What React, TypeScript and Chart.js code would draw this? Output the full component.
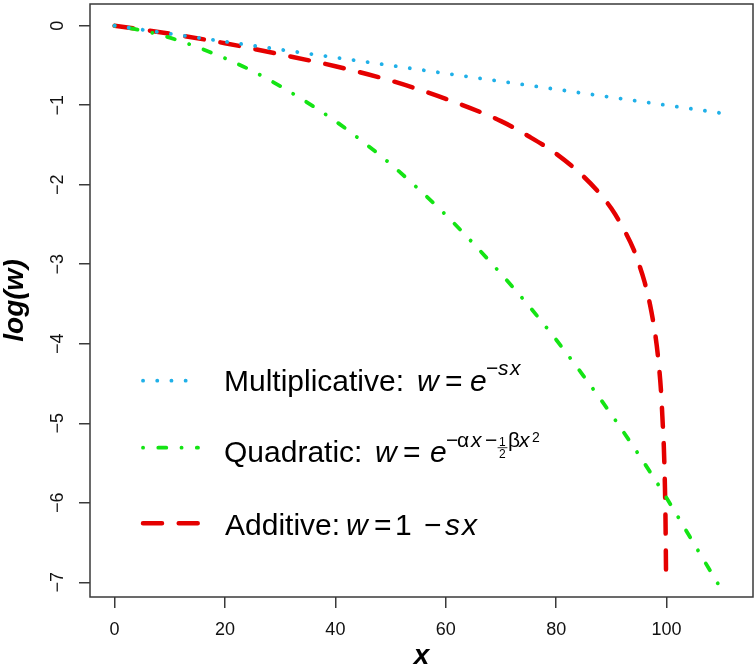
import React, { useEffect, useRef } from 'react';
import { Chart, registerables } from 'chart.js';

Chart.register(...registerables);

// ---- data ----
const multX = [0, 20, 40, 60, 80, 100, 111];
const multY = [0, -0.2, -0.4, -0.6, -0.8, -1.0, -1.11];

const quadX = [0, 5, 10, 15, 20, 25, 30, 35, 40, 45, 50, 55, 60, 65, 70, 75, 80, 85, 90, 95, 100, 105, 110, 110.5];
const quadY = [0, -0.06, -0.15, -0.27, -0.41, -0.57, -0.76, -0.97, -1.2, -1.46, -1.74, -2.05, -2.38, -2.74, -3.12, -3.52, -3.95, -4.41, -4.89, -5.4, -5.94, -6.52, -7.1, -7.16];

const addX = [0, 10, 20, 30, 40, 50, 60, 70, 75, 80, 85, 88, 90, 92, 94, 95, 96, 97, 98, 98.5, 99, 99.3, 99.5, 99.7, 99.8, 99.9];
const addY = [0, -0.1, -0.22, -0.36, -0.51, -0.69, -0.92, -1.2, -1.39, -1.61, -1.9, -2.12, -2.3, -2.53, -2.81, -3.0, -3.22, -3.51, -3.91, -4.2, -4.61, -5.01, -5.3, -5.81, -6.21, -6.91];

const xTicks = [0, 20, 40, 60, 80, 100];
const yTicks = [0, -1, -2, -3, -4, -5, -6, -7];
const seriesNames = ['Multiplicative', 'Quadratic', 'Additive'];
const xTitle = 'x';
const yTitle = 'log(w)';

const FONT = '"Liberation Sans", Arial, Helvetica, sans-serif';
const BLUE = '#20b0e8';
const GREEN = '#14e414';
const RED = '#e50000';
const AXIS = '#3a3a3a';

const DASH_DOT = [0.1, 14.1];
const DASH_DOTDASH = [0.1, 15.2, 8, 15.2];
const DASH_LONG = [19, 16.7];

const MAIN = 30;
const SUP = 21;

type Run = { t: string; x: number; dy: number; size: number; it?: boolean };
type Row = { y: number; base: number; color: string; dash: number[]; width: number; runs: Run[]; extra?: (ctx: CanvasRenderingContext2D, base: number) => void };

const legendRows: Row[] = [
  {
    y: 380.7, base: 391, color: BLUE, dash: DASH_DOT, width: 3.8,
    runs: [
      { t: seriesNames[0] + ':', x: 224, dy: 0, size: MAIN },
      { t: 'w', x: 417, dy: 0, size: MAIN, it: true },
      { t: '=', x: 445, dy: 0, size: MAIN },
      { t: 'e', x: 470, dy: 0, size: MAIN, it: true },
      { t: '\u2212', x: 486, dy: -16, size: SUP },
      { t: 's', x: 498, dy: -16, size: SUP, it: true },
      { t: 'x', x: 510, dy: -16, size: SUP, it: true },
    ],
  },
  {
    y: 447.7, base: 462, color: GREEN, dash: DASH_DOTDASH, width: 3.8,
    runs: [
      { t: seriesNames[1] + ':', x: 224, dy: 0, size: MAIN },
      { t: 'w', x: 375, dy: 0, size: MAIN, it: true },
      { t: '=', x: 403, dy: 0, size: MAIN },
      { t: 'e', x: 430, dy: 0, size: MAIN, it: true },
      { t: '\u2212', x: 446, dy: -15, size: SUP },
      { t: '\u03b1', x: 457, dy: -15, size: SUP },
      { t: 'x', x: 471, dy: -15, size: SUP, it: true },
      { t: '\u2212', x: 485, dy: -15, size: SUP },
      { t: '1', x: 499, dy: -16.5, size: 12 },
      { t: '2', x: 499, dy: -4, size: 12 },
      { t: '\u03b2', x: 508, dy: -15, size: SUP },
      { t: 'x', x: 519, dy: -15, size: SUP, it: true },
      { t: '2', x: 532, dy: -20, size: 14 },
    ],
    extra: (ctx, base) => {
      ctx.beginPath();
      ctx.strokeStyle = '#000';
      ctx.lineWidth = 0.8;
      ctx.moveTo(498, base - 14.3);
      ctx.lineTo(507, base - 14.3);
      ctx.stroke();
    },
  },
  {
    y: 523.3, base: 535, color: RED, dash: DASH_LONG, width: 4.5,
    runs: [
      { t: seriesNames[2] + ':', x: 225, dy: 0, size: MAIN },
      { t: 'w', x: 346, dy: 0, size: MAIN, it: true },
      { t: '=', x: 374, dy: 0, size: MAIN },
      { t: '1', x: 395, dy: 0, size: MAIN },
      { t: '\u2212', x: 424, dy: 0, size: MAIN },
      { t: 's', x: 445, dy: 0, size: MAIN, it: true },
      { t: 'x', x: 462, dy: 0, size: MAIN, it: true },
    ],
  },
];

const pts = (xs: number[], ys: number[]) => xs.map((x, i) => ({ x, y: ys[i] }));

const boxAndLegend = {
  id: 'boxAndLegend',
  afterDraw(chart: any) {
    const { ctx, chartArea } = chart;
    ctx.save();
    ctx.strokeStyle = AXIS;
    ctx.lineWidth = 1.5;
    ctx.setLineDash([]);
    ctx.strokeRect(chartArea.left, chartArea.top, chartArea.right - chartArea.left, chartArea.bottom - chartArea.top);

    for (const row of legendRows) {
      ctx.beginPath();
      ctx.strokeStyle = row.color;
      ctx.lineWidth = row.width;
      ctx.lineCap = 'round';
      ctx.setLineDash(row.dash);
      ctx.moveTo(143, row.y);
      ctx.lineTo(198, row.y);
      ctx.stroke();
      ctx.setLineDash([]);
      ctx.fillStyle = '#000';
      ctx.textBaseline = 'alphabetic';
      ctx.textAlign = 'left';
      for (const r of row.runs) {
        ctx.font = `${r.it ? 'italic ' : ''}${r.size}px ${FONT}`;
        ctx.fillText(r.t, r.x, row.base + r.dy);
      }
      if (row.extra) row.extra(ctx, row.base);
    }
    ctx.restore();
  },
};

const noPad = (s: any) => {
  s.paddingTop = 0;
  s.paddingBottom = 0;
  s.paddingLeft = 0;
  s.paddingRight = 0;
};

export default function App() {
  const ref = useRef<HTMLCanvasElement | null>(null);
  useEffect(() => {
    if (!ref.current) return;
    const chart = new Chart(ref.current, {
      type: 'line',
      data: {
        datasets: [
          {
            label: seriesNames[0],
            data: pts(multX, multY),
            borderColor: BLUE,
            borderWidth: 3.8,
            borderDash: DASH_DOT,
            borderCapStyle: 'round',
            pointRadius: 0,
            fill: false,
          },
          {
            label: seriesNames[1],
            data: pts(quadX, quadY),
            borderColor: GREEN,
            borderWidth: 3.8,
            borderDash: DASH_DOTDASH,
            borderCapStyle: 'round',
            cubicInterpolationMode: 'monotone',
            pointRadius: 0,
            fill: false,
          },
          {
            label: seriesNames[2],
            data: pts(addX, addY),
            borderColor: RED,
            borderWidth: 4.5,
            borderDash: DASH_LONG,
            borderCapStyle: 'round',
            cubicInterpolationMode: 'monotone',
            pointRadius: 0,
            fill: false,
          },
        ],
      },
      options: {
        responsive: false,
        animation: false,
        layout: { padding: { left: 0, top: 4, right: 3, bottom: 0 } },
        plugins: { legend: { display: false }, tooltip: { enabled: false } },
        scales: {
          x: {
            type: 'linear',
            min: -4.45,
            max: 115.65,
            afterFit: (s: any) => { s.height = 74; noPad(s); },
            afterBuildTicks: (s: any) => { s.ticks = xTicks.map((v) => ({ value: v })); },
            grid: { drawOnChartArea: false, drawTicks: true, tickLength: 11, color: AXIS, lineWidth: 1.5 },
            border: { display: false },
            ticks: {
              font: { family: FONT, size: 18 },
              color: '#111',
              padding: 11,
              maxRotation: 0,
              minRotation: 0,
              callback: (v: any) => String(v),
            },
            title: {
              display: true,
              text: xTitle,
              font: { family: FONT, size: 28, style: 'italic', weight: 'bold', lineHeight: 1 },
              color: '#000',
              padding: { top: 0, bottom: 1 },
            },
          },
          y: {
            type: 'linear',
            min: -7.185,
            max: 0.273,
            afterFit: (s: any) => { s.width = 90; noPad(s); },
            afterBuildTicks: (s: any) => { s.ticks = yTicks.map((v) => ({ value: v })); },
            grid: { drawOnChartArea: false, drawTicks: true, tickLength: 11, color: AXIS, lineWidth: 1.5 },
            border: { display: false },
            ticks: {
              font: { family: FONT, size: 18 },
              color: '#111',
              padding: 10.5,
              minRotation: 90,
              maxRotation: 90,
              crossAlign: 'center',
              callback: (v: any) => String(v).replace('-', '\u2212'),
            },
            title: {
              display: true,
              text: yTitle,
              font: { family: FONT, size: 28, style: 'italic', weight: 'bold', lineHeight: 1 },
              color: '#000',
              padding: { top: 1, bottom: 0 },
            },
          },
        },
      },
      plugins: [boxAndLegend],
    } as any);
    return () => chart.destroy();
  }, []);
  return (
    <div style={{ position: 'fixed', left: 0, top: 0, width: 756, height: 671, background: '#fff' }}>
      <canvas ref={ref} width={756} height={671} style={{ display: 'block' }} />
    </div>
  );
}
